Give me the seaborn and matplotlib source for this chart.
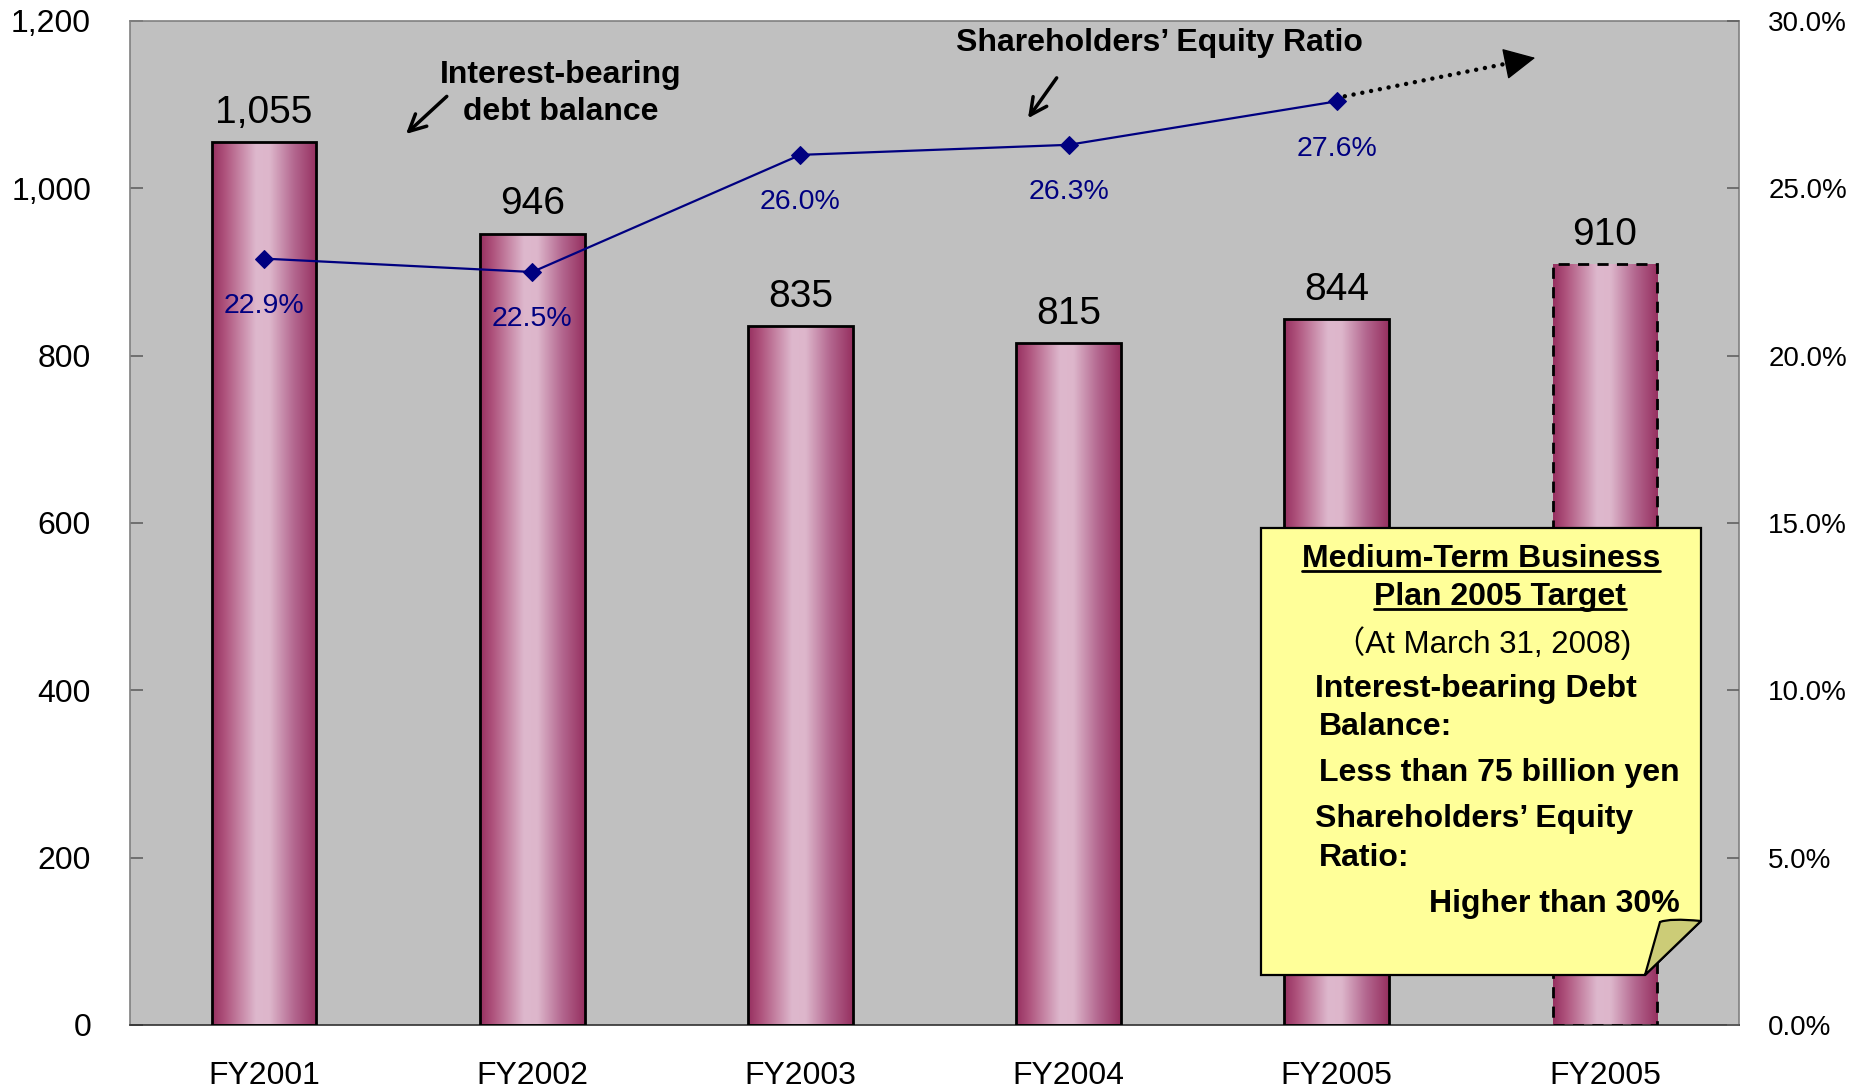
import numpy as np
import pandas as pd
import matplotlib
matplotlib.use("Agg")
import matplotlib.pyplot as plt
import seaborn as sns
from matplotlib.colors import LinearSegmentedColormap
from matplotlib.patches import Polygon, PathPatch
from matplotlib.path import Path
from matplotlib.ticker import FuncFormatter, FixedLocator

# data
categories = ["FY2001", "FY2002", "FY2003", "FY2004", "FY2005", "FY2005 target"]
tick_labels = ["FY2001", "FY2002", "FY2003", "FY2004", "FY2005", "FY2005"]
debt = [1055, 946, 835, 815, 844, 910]
ratio_years = [0, 1, 2, 3, 4]
equity_ratio = [22.9, 22.5, 26.0, 26.3, 27.6]
ratio_labels = ["22.9%", "22.5%", "26.0%", "26.3%", "27.6%"]
trend_start = (4.03, 27.75)
trend_end = (4.74, 28.9)

df = pd.DataFrame({"year": categories, "debt": debt})
df_ratio = pd.DataFrame({"pos": ratio_years, "ratio": equity_ratio})

sns.set_style("white")
plt.rcParams["font.family"] = ["Liberation Sans", "DejaVu Sans"]
plt.rcParams["text.color"] = "black"
plt.rcParams["xtick.color"] = "black"
plt.rcParams["ytick.color"] = "black"

W, H = 1852, 1088
fig = plt.figure(figsize=(W / 100, H / 100), dpi=100)
ax = fig.add_axes([130 / W, 1 - 1025 / H, (1739 - 130) / W, (1025 - 21) / H])
ax.set_facecolor("#C0C0C0")

sns.barplot(data=df, x="year", y="debt", width=0.39, ax=ax, color="#B05080")

# gradient fill on the bars
cmap = LinearSegmentedColormap.from_list(
    "bar", [(0, "#963060"), (0.12, "#AE527C"), (0.42, "#DEB8CD"),
            (0.55, "#DDB6CB"), (0.78, "#B46890"), (1.0, "#963060")])
grad = np.linspace(0, 1, 256).reshape(1, -1)
for i, p in enumerate(ax.patches):
    x0, w, h = p.get_x(), p.get_width(), p.get_height()
    im = ax.imshow(grad, extent=[x0, x0 + w, 0, h], aspect="auto", cmap=cmap,
                   interpolation="bicubic", zorder=2)
    im.set_clip_path(p)
    p.set_facecolor("none")
    p.set_edgecolor("black")
    p.set_linewidth(2)
    p.set_zorder(3)
    if i == len(ax.patches) - 1:
        p.set_linestyle((0, (4, 3)))
    ax.annotate(f"{debt[i]:,}", (x0 + w / 2, h), xytext=(0, 8),
                textcoords="offset points", ha="center", va="bottom", fontsize=28)

ax.set_xlim(-0.5, 5.5)
ax.set_ylim(0, 1200)
ax.set_yticks(range(0, 1201, 200))
ax.yaxis.set_major_formatter(FuncFormatter(lambda v, _: f"{int(v):,}"))
ax.set_xticks(range(6))
ax.set_xticklabels(tick_labels)
ax.xaxis.set_minor_locator(FixedLocator([0.5, 1.5, 2.5, 3.5, 4.5]))
ax.tick_params(axis="x", which="major", length=0, pad=26, labelsize=23)
ax.tick_params(axis="x", which="minor", direction="in", length=9, width=1.2, color="#606060")
ax.tick_params(axis="y", direction="in", length=9, width=1.2, pad=28, labelsize=23, color="#606060")
ax.set_xlabel("")
ax.set_ylabel("")
for s in ax.spines.values():
    s.set_color("#808080")
    s.set_linewidth(1.2)
ax.spines["bottom"].set_color("#303030")

# equity ratio line
ax2 = ax.twinx()
sns.lineplot(data=df_ratio, x="pos", y="ratio", ax=ax2, color="#000080",
             marker="D", markersize=9, markeredgecolor="#000080", linewidth=1.6)
ax2.set_ylim(0, 30)
ax2.set_xlim(-0.5, 5.5)
ax2.set_yticks(np.arange(0, 30.1, 5))
ax2.yaxis.set_major_formatter(FuncFormatter(lambda v, _: f"{v:.1f}%"))
ax2.tick_params(axis="y", direction="in", length=9, width=1.2, pad=21, labelsize=20, color="#606060")
ax2.set_ylabel("")
for s in ax2.spines.values():
    s.set_visible(False)
for xv, yv, lab in zip(ratio_years, equity_ratio, ratio_labels):
    ax2.annotate(lab, (xv, yv), xytext=(0, -34), textcoords="offset points",
                 ha="center", va="center", fontsize=20.5, color="#000080")

# dotted trend arrow: dotted shaft plus a solid head
frac = 0.93
mid = (trend_start[0] + frac * (trend_end[0] - trend_start[0]),
       trend_start[1] + frac * (trend_end[1] - trend_start[1]))
ax2.plot([trend_start[0], mid[0]], [trend_start[1], mid[1]], color="black",
         lw=3.2, linestyle=(0, (0.01, 2.0)), dash_capstyle="round")
ax2.annotate("", xy=trend_end, xytext=mid,
             arrowprops=dict(arrowstyle="-|>,head_length=0.6,head_width=0.3",
                             lw=1, color="black", mutation_scale=34,
                             shrinkA=0, shrinkB=0))


def fp(x, y):
    # shrunk-reference pixel -> figure fraction
    return (x / 1568, 1 - y / 921)


fig.text(*fp(475, 79), "Interest-bearing\ndebt balance", ha="center", va="center",
         fontsize=23, fontweight="bold", linespacing=1.3)
ax.annotate("", xy=fp(342, 115), xytext=fp(380, 80), xycoords="figure fraction",
            textcoords="figure fraction",
            arrowprops=dict(arrowstyle="->", lw=2.5, color="black", mutation_scale=30))
fig.text(*fp(982, 36), "Shareholders\u2019 Equity Ratio", ha="center", va="center",
         fontsize=23, fontweight="bold")
ax.annotate("", xy=fp(869, 102), xytext=fp(896, 64), xycoords="figure fraction",
            textcoords="figure fraction",
            arrowprops=dict(arrowstyle="->", lw=2.5, color="black", mutation_scale=30))

# note box with folded corner
def px(x, y):
    return (x / W, 1 - y / H)


box = Polygon([px(1261, 528), px(1701, 528), px(1701, 921), px(1645, 975), px(1261, 975)],
              closed=True, transform=fig.transFigure, facecolor="#FFFF99",
              edgecolor="black", lw=1.6, zorder=5)
fig.patches.append(box)
fold = Path([px(1645, 975), px(1660, 922), px(1670, 918), px(1701, 921), px(1645, 975)],
            [Path.MOVETO, Path.LINETO, Path.CURVE3, Path.CURVE3, Path.LINETO])
fig.patches.append(PathPatch(fold, transform=fig.transFigure, facecolor="#CCCC77",
                             edgecolor="black", lw=1.6, zorder=6))

box_lines = [
    ("Medium-Term Business", 1254, 473, "center", True, True),
    ("Plan 2005 Target", 1270, 505, "center", True, True),
    ("\uff08At March 31, 2008)", 1255, 544, "center", False, False),
    ("Interest-bearing Debt", 1113, 583, "left", True, False),
    ("Balance:", 1117, 615, "left", True, False),
    ("Less than 75 billion yen", 1117, 654, "left", True, False),
    ("Shareholders\u2019 Equity", 1113, 693, "left", True, False),
    ("Ratio:", 1117, 726, "left", True, False),
    ("Higher than 30%", 1422, 765, "right", True, False),
]
renderer = fig.canvas.get_renderer()
for txt, x, y, ha, bold, under in box_lines:
    t = fig.text(*fp(x, y), txt, ha=ha, va="center", fontsize=23 if bold else 22.5,
                 fontweight="bold" if bold else "normal", zorder=7,
                 family=["Liberation Sans", "Noto Sans CJK JP", "DejaVu Sans"])
    if under:
        bb = t.get_window_extent(renderer)
        yy = (bb.y0 + 3) / H
        fig.add_artist(plt.Line2D([bb.x0 / W, bb.x1 / W], [yy, yy], transform=fig.transFigure,
                                  color="black", lw=2, zorder=7))

fig.savefig("out.png", dpi=100)
